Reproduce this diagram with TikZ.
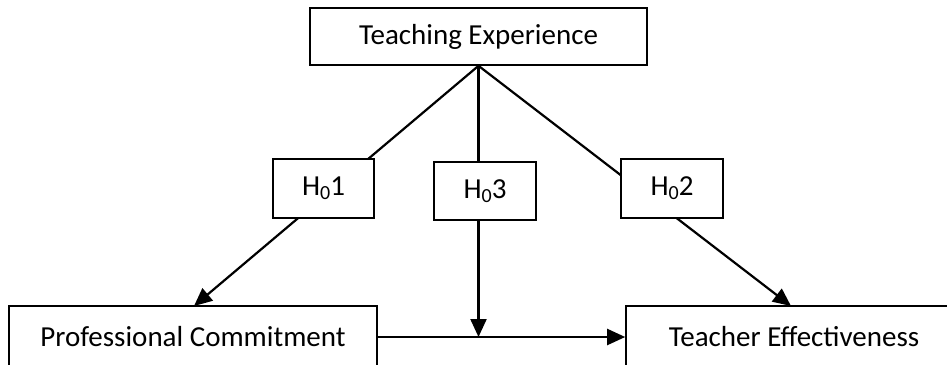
\documentclass[tikz,border=0pt]{standalone}
\usepackage{fontspec}
\setmainfont{Carlito}
\usetikzlibrary{arrows.meta,backgrounds}
\begin{document}
\begin{tikzpicture}[x=1pt,y=-1pt,
  box/.style={draw=black,line width=1.6pt,fill=white,inner sep=0pt,
     font=\fontsize{29}{34}\selectfont},
  conn/.style={line width=2.2pt,draw=black},
  arr/.style={conn,-{Triangle[length=18pt,width=16pt]}}]
\useasboundingbox (0,0) rectangle (947,364);
\node[box,minimum width=337pt,minimum height=57pt] (te) at (478.5,36.5) {Teaching Experience};
\node[box,minimum width=101pt,minimum height=59pt] (h1) at (323.5,188.5) {H\raisebox{-0.3ex}{\fontsize{20}{20}\selectfont 0}1};
\node[box,minimum width=102pt,minimum height=58pt] (h3) at (485,191) {H\raisebox{-0.3ex}{\fontsize{20}{20}\selectfont 0}3};
\node[box,minimum width=102pt,minimum height=59pt] (h2) at (672,188.5) {H\raisebox{-0.3ex}{\fontsize{20}{20}\selectfont 0}2};
\node[box,minimum width=368pt,minimum height=62pt] (pc) at (193,337) {Professional Commitment};
\node[box,minimum width=336pt,minimum height=62pt] (tef) at (794,337) {Teacher Effectiveness};
\coordinate (tipL) at (194,306);
\coordinate (tipR) at (791,306);
\coordinate (mid) at (te.south |- pc.east);
\begin{scope}[on background layer]
\draw[arr] (te.south) -- (tipL);
\draw[arr] (te.south) -- (tipR);
\draw[arr] (te.south) -- (mid);
\end{scope}
\draw[arr] (pc.east) -- (tef.west);
\end{tikzpicture}
\end{document}
